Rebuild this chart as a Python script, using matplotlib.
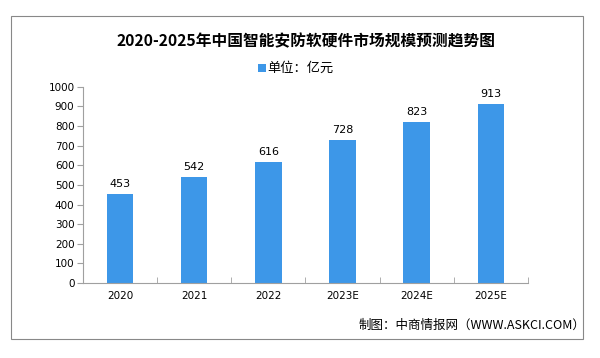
import numpy as np
import matplotlib.pyplot as plt
from matplotlib.patches import Rectangle

plt.rcParams['font.family'] = ['Noto Sans CJK SC', 'DejaVu Sans']

years = ['2020', '2021', '2022', '2023E', '2024E', '2025E']
values = [453, 542, 616, 728, 823, 913]

bar_color = '#3d97e8'
axis_color = '#a0a0a0'

fig = plt.figure(figsize=(6, 3.58), dpi=100)
ax = fig.add_axes([0.138, 0.2095, 0.742, 0.548])

x = np.arange(len(years))
ax.bar(x, values, width=0.36, color=bar_color, zorder=2)
for xi, v in zip(x, values):
    ax.text(xi, v + 25, str(v), ha='center', va='bottom', fontsize=8, family='DejaVu Sans')

ax.set_xlim(-0.5, len(years) - 0.5)
ax.set_ylim(0, 1000)
ax.set_yticks(range(0, 1001, 100))
ax.set_xticks(x)
ax.set_xticklabels(years, fontsize=7.5, family='DejaVu Sans')
ax.set_xticks(np.arange(-0.5, len(years)), minor=True)
ax.tick_params(axis='x', which='major', length=0, pad=6)
ax.tick_params(axis='x', which='minor', direction='in', length=4, color=axis_color)
ax.tick_params(axis='y', labelsize=7.5, length=4, color=axis_color, pad=2)
for lbl in ax.get_yticklabels():
    lbl.set_family('DejaVu Sans')

for side in ['top', 'right']:
    ax.spines[side].set_visible(False)
for side in ['left', 'bottom']:
    ax.spines[side].set_color(axis_color)

# title, legend, source
fig.text(0.51, 0.885, '2020-2025年中国智能安防软硬件市场规模预测趋势图',
         ha='center', va='center', fontsize=11.3, fontweight='bold')
fig.patches.append(Rectangle((0.43, 0.799), 0.0135, 0.023, transform=fig.transFigure,
                             facecolor=bar_color, edgecolor='none'))
fig.text(0.446, 0.81, '单位：亿元', ha='left', va='center', fontsize=9.5)
fig.text(0.975, 0.092, '制图：中商情报网（WWW.ASKCI.COM）', ha='right', va='center', fontsize=9)

# outer frame
fig.patches.append(Rectangle((11 / 600, 1 - 339 / 358), 572 / 600, 323 / 358,
                             transform=fig.transFigure, facecolor='none',
                             edgecolor='#888888', linewidth=0.8))

fig.savefig('out.png', dpi=100)
